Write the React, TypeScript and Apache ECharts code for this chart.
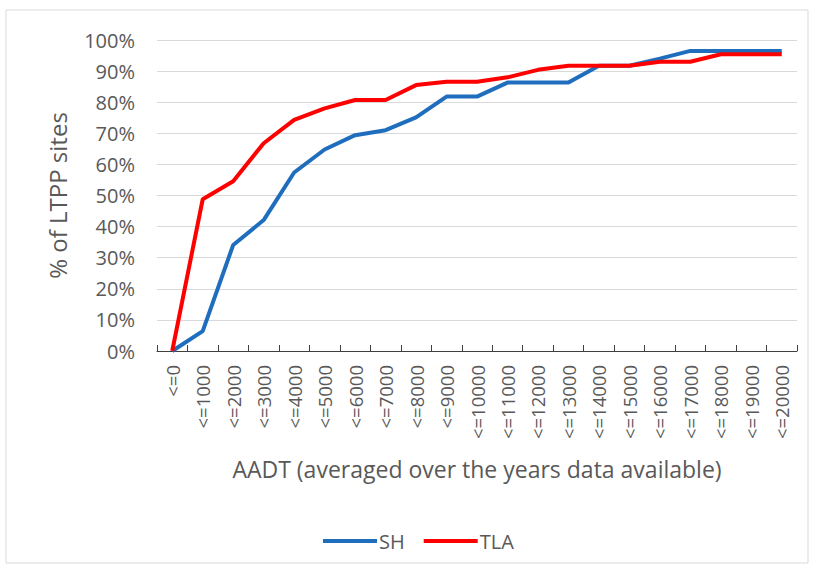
import React, { useEffect, useRef } from "react";
import * as echarts from "echarts";

const categories = [
  "<=0", "<=1000", "<=2000", "<=3000", "<=4000", "<=5000", "<=6000", "<=7000",
  "<=8000", "<=9000", "<=10000", "<=11000", "<=12000", "<=13000", "<=14000",
  "<=15000", "<=16000", "<=17000", "<=18000", "<=19000", "<=20000",
];
const shValues = [0, 6.4, 34.1, 42.1, 57.4, 64.8, 69.4, 71.0, 75.1, 81.8, 81.8, 86.3, 86.3, 86.3, 91.7, 91.7, 94.0, 96.5, 96.5, 96.5, 96.5];
const tlaValues = [0, 48.8, 54.6, 66.8, 74.3, 78.0, 80.7, 80.7, 85.5, 86.6, 86.6, 88.0, 90.4, 91.7, 91.7, 91.7, 93.0, 93.0, 95.4, 95.4, 95.4];
const yTicks = [0, 10, 20, 30, 40, 50, 60, 70, 80, 90, 100];

const FONT = "'Open Sans', 'Noto Sans', sans-serif";
const TXT = "#595959";

export default function App() {
  const ref = useRef<HTMLDivElement>(null);
  useEffect(() => {
    if (!ref.current) return;
    const chart = echarts.init(ref.current, undefined, { renderer: "svg" });
    chart.setOption({
      animation: false,
      backgroundColor: "#ffffff",
      textStyle: { fontFamily: FONT },
      graphic: [
        {
          type: "rect",
          shape: { x: 6, y: 10, width: 802, height: 553 },
          style: { fill: "none", stroke: "#d9d9d9", lineWidth: 1 },
          silent: true,
        },
      ],
      grid: { left: 157, right: 17, top: 40, bottom: 217, containLabel: false },
      legend: {
        data: ["SH", "TLA"],
        top: 526,
        left: 318,
        icon: "rect",
        itemWidth: 54,
        itemHeight: 4,
        itemGap: 19,
        textStyle: { color: TXT, fontSize: 20, fontFamily: FONT, padding: [0, 0, 0, -3] },
      },
      xAxis: {
        type: "category",
        data: categories,
        boundaryGap: true,
        name: "AADT (averaged over the years data available)",
        nameLocation: "middle",
        nameGap: 106,
        nameTextStyle: { color: TXT, fontSize: 23, fontFamily: FONT },
        axisLine: { lineStyle: { color: "#404040", width: 1 } },
        axisTick: { show: true, inside: true, length: 6, alignWithLabel: false, lineStyle: { color: "#404040" } },
        axisLabel: { rotate: 90, color: TXT, fontSize: 18.5, margin: 14, interval: 0, fontFamily: FONT },
        splitLine: { show: false },
      },
      yAxis: {
        type: "value",
        min: 0,
        max: 100,
        interval: 10,
        name: "% of LTPP sites",
        nameLocation: "middle",
        nameGap: 88,
        nameTextStyle: { color: TXT, fontSize: 24, fontFamily: FONT },
        axisLine: { show: false },
        axisTick: { show: false },
        axisLabel: {
          color: TXT,
          fontSize: 20,
          margin: 22,
          fontFamily: FONT,
          formatter: (v: number) => (yTicks.includes(v) ? v + "%" : ""),
        },
        splitLine: { lineStyle: { color: "#d9d9d9", width: 1 } },
      },
      series: [
        {
          name: "SH",
          type: "line",
          data: shValues,
          symbol: "none",
          lineStyle: { color: "#1f6ebe", width: 4 },
          itemStyle: { color: "#1f6ebe" },
        },
        {
          name: "TLA",
          type: "line",
          data: tlaValues,
          symbol: "none",
          lineStyle: { color: "#ff0000", width: 4 },
          itemStyle: { color: "#ff0000" },
        },
      ],
    });
    return () => chart.dispose();
  }, []);
  return (
    <div
      ref={ref}
      style={{ position: "absolute", left: 0, top: 0, width: 814, height: 568 }}
    />
  );
}
